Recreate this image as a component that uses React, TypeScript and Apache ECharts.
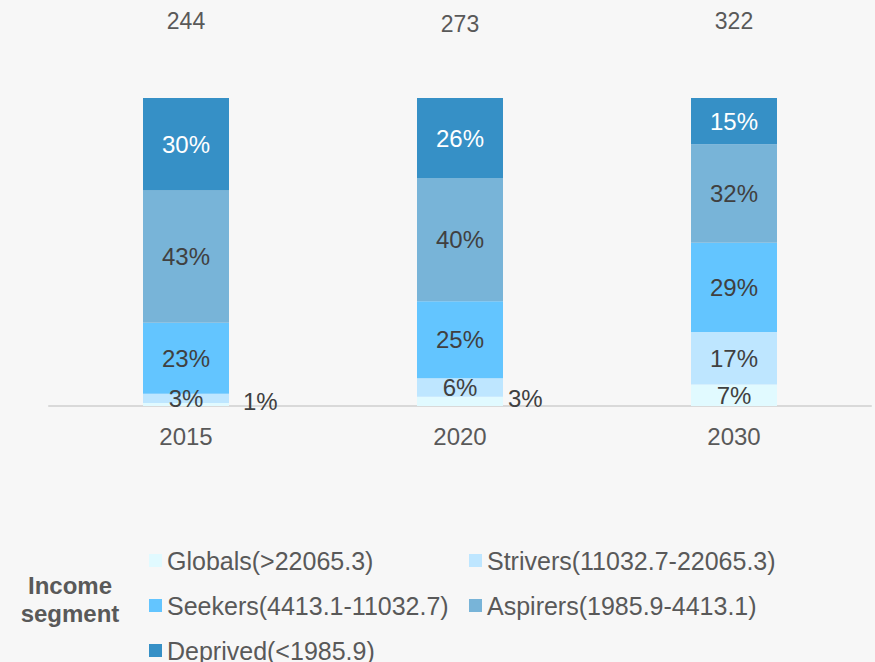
import React, { useEffect, useRef } from "react";
import * as echarts from "echarts";

const years = ["2015", "2020", "2030"];
const totals = [244, 273, 322];
const segments = [
  "Globals(>22065.3)",
  "Strivers(11032.7-22065.3)",
  "Seekers(4413.1-11032.7)",
  "Aspirers(1985.9-4413.1)",
  "Deprived(<1985.9)",
];
const globals = [1, 3, 7];
const strivers = [3, 6, 17];
const seekers = [23, 25, 29];
const aspirers = [43, 40, 32];
const deprived = [30, 26, 15];

const colors = ["#e1faff", "#bee6ff", "#63c5ff", "#78b4d8", "#3690c6"];
const outsideLabelDistance = [14, 5];
const FONT = "'Liberation Sans', Arial, sans-serif";

export default function App() {
  const ref = useRef<HTMLDivElement>(null);
  useEffect(() => {
    if (!ref.current) return;
    const chart = echarts.init(ref.current, undefined, { renderer: "svg" });
    const values = [globals, strivers, seekers, aspirers, deprived];
    const series = segments.map((name, si) => ({
      name,
      type: "bar",
      stack: "total",
      barWidth: 86,
      xAxisIndex: 0,
      yAxisIndex: 0,
      itemStyle: { color: colors[si] },
      label: {
        show: true,
        position: "inside",
        fontSize: 24,
        fontFamily: FONT,
        color: si === 4 ? "#ffffff" : "#404040",
        formatter: "{c}%",
      },
      data: values[si].map((v, i) => {
        if (si === 0 && v < 5) {
          return {
            value: v,
            label: {
              position: "right",
              distance: outsideLabelDistance[i] ?? 10,
              offset: [0, -3],
            },
          };
        }
        return { value: v };
      }),
    }));
    const legendCommon = {
      orient: "vertical",
      top: 548,
      height: 140,
      padding: 0,
      icon: "rect",
      itemWidth: 13,
      itemHeight: 13,
      itemGap: 20,
      selectedMode: false,
      textStyle: { fontSize: 25, color: "#595959", fontFamily: FONT },
    };
    chart.setOption({
      animation: false,
      backgroundColor: "#f7f7f7",
      textStyle: { fontFamily: FONT },
      grid: { left: 49, right: 4, top: 98, bottom: 256 },
      xAxis: [
        {
          type: "category",
          data: years,
          axisLine: { lineStyle: { color: "#d9d9d9", width: 2 } },
          axisTick: { show: false },
          axisLabel: { fontSize: 24, color: "#595959", margin: 18, fontFamily: FONT },
        },
        {
          type: "category",
          position: "top",
          data: totals.map((t, i) => ({
            value: String(t),
            textStyle: i === 1 ? { padding: [0, 0, -3, 0] } : {},
          })),
          axisLine: { show: false },
          axisTick: { show: false },
          axisLabel: { fontSize: 23, color: "#595959", margin: 66, fontFamily: FONT },
        },
      ],
      yAxis: {
        type: "value",
        min: 0,
        max: 100,
        show: false,
      },
      legend: [
        { ...legendCommon, data: [segments[0], segments[2], segments[4]], left: 149 },
        { ...legendCommon, data: [segments[1], segments[3]], left: 469 },
      ],
      graphic: [
        {
          type: "text",
          x: 70,
          y: 599,
          style: {
            text: "Income\nsegment",
            textAlign: "center",
            textVerticalAlign: "middle",
            fontSize: 24,
            fontWeight: "bold",
            lineHeight: 28,
            fill: "#595959",
            fontFamily: FONT,
          },
        },
      ],
      series,
    });
    return () => chart.dispose();
  }, []);
  return (
    <div
      ref={ref}
      style={{ width: 875, height: 662, position: "absolute", left: 0, top: 0 }}
    />
  );
}
